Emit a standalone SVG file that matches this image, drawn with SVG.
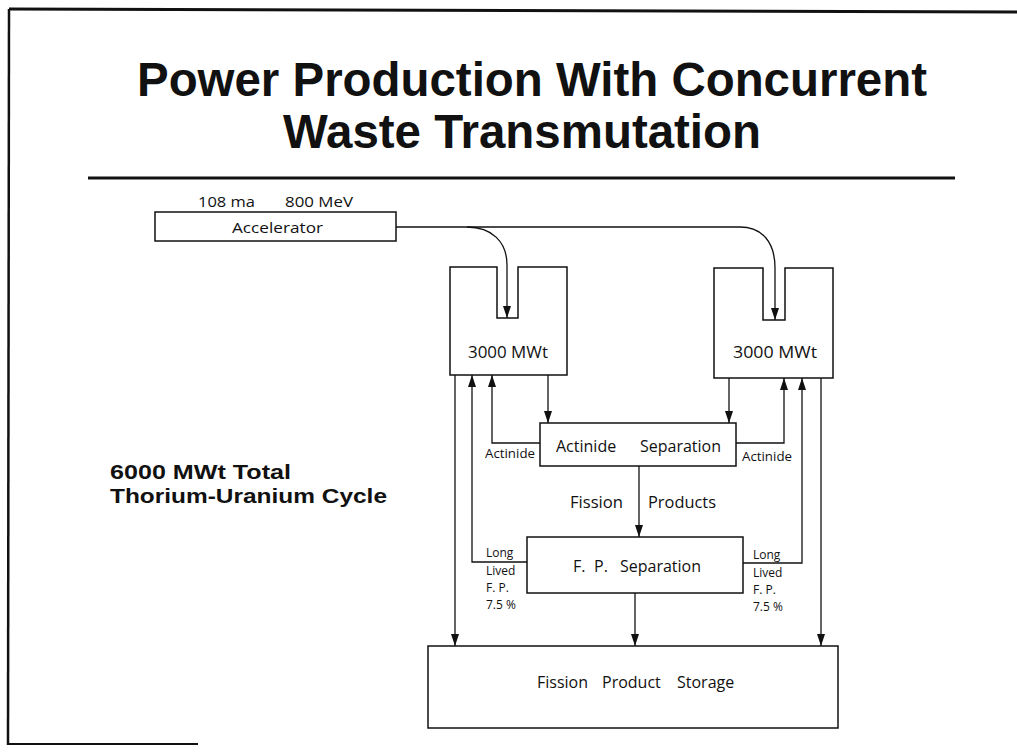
<svg xmlns="http://www.w3.org/2000/svg" width="1017" height="752" viewBox="0 0 1017 752">
<style>
.box{fill:#fff;stroke:#111;stroke-width:1.5}
.conn{fill:none;stroke:#111;stroke-width:1.3}
.t{font-family:"Open Sans","Liberation Sans",sans-serif;fill:#111}
.title{font-family:"Liberation Sans",Arial,sans-serif;font-weight:bold;fill:#111}
</style>
<defs>
<marker id="ah" viewBox="0 0 12 8" refX="12" refY="4" markerWidth="12" markerHeight="8" markerUnits="userSpaceOnUse" orient="auto">
<path d="M0,0 L12,4 L0,8 Z" fill="#111"/>
</marker>
</defs>
<rect width="1017" height="752" fill="#fff"/>
<g id="frame" fill="none" stroke="#111">
<path d="M9,9 L1017,12" stroke-width="3"/>
<path d="M9,9 L8,745" stroke-width="2.5"/>
<path d="M7,744 L198,744" stroke-width="2"/>
<path d="M88,178 L955,178" stroke-width="3"/>
</g>
<g id="title">
<text class="title" x="137" y="96" font-size="48" textLength="790" lengthAdjust="spacingAndGlyphs">Power Production With Concurrent</text>
<text class="title" x="283" y="148" font-size="48" textLength="478" lengthAdjust="spacingAndGlyphs">Waste Transmutation</text>
</g>
<g id="summary">
<text class="title" x="110" y="479" font-size="20" textLength="181" lengthAdjust="spacingAndGlyphs">6000 MWt Total</text>
<text class="title" x="110" y="503" font-size="20" textLength="277" lengthAdjust="spacingAndGlyphs">Thorium-Uranium Cycle</text>
</g>
<g id="accelerator">
<text class="t" x="198" y="207" font-size="14" textLength="57" lengthAdjust="spacingAndGlyphs">108 ma</text>
<text class="t" x="285" y="207" font-size="14" textLength="68" lengthAdjust="spacingAndGlyphs">800 MeV</text>
<rect class="box" x="155" y="212" width="241" height="29"/>
<text class="t" x="232" y="233" font-size="15" textLength="91" lengthAdjust="spacingAndGlyphs">Accelerator</text>
</g>
<g id="reactor-left">
<path class="box" d="M450,267 H497 V318 H518 V267 H567 V375 H450 Z"/>
<text class="t" x="468" y="358" font-size="16" textLength="80" lengthAdjust="spacingAndGlyphs">3000 MWt</text>
</g>
<g id="reactor-right">
<path class="box" d="M714,268 H763 V320 H785 V268 H833 V378 H714 Z"/>
<text class="t" x="733" y="358" font-size="16" textLength="84" lengthAdjust="spacingAndGlyphs">3000 MWt</text>
</g>
<g id="actinide-separation">
<rect class="box" x="540" y="423" width="196" height="43"/>
<text class="t" y="452" font-size="16"><tspan x="556">Actinide</tspan> <tspan x="640">Separation</tspan></text>
</g>
<g id="fp-separation">
<rect class="box" x="527" y="537" width="216" height="56"/>
<text class="t" y="572" font-size="16"><tspan x="573">F.</tspan> <tspan x="594">P.</tspan> <tspan x="620">Separation</tspan></text>
</g>
<g id="storage">
<rect class="box" x="428" y="646" width="410" height="82"/>
<text class="t" y="688" font-size="16"><tspan x="537">Fission</tspan> <tspan x="602">Product</tspan> <tspan x="677">Storage</tspan></text>
</g>
<g id="connectors">
<path class="conn" d="M396,227 H467 C492,227 507,242 507,265 V318" marker-end="url(#ah)"/>
<path class="conn" d="M467,227 H740 C762,227 775,242 775,268 V320" marker-end="url(#ah)"/>
<path class="conn" d="M455,375 V646" marker-end="url(#ah)"/>
<path class="conn" d="M527,562 H472 V375" marker-end="url(#ah)"/>
<path class="conn" d="M540,443 H492 V375" marker-end="url(#ah)"/>
<path class="conn" d="M548,375 V423" marker-end="url(#ah)"/>
<path class="conn" d="M729,378 V423" marker-end="url(#ah)"/>
<path class="conn" d="M736,443 H784 V378" marker-end="url(#ah)"/>
<path class="conn" d="M743,563 H802 V378" marker-end="url(#ah)"/>
<path class="conn" d="M821,378 V646" marker-end="url(#ah)"/>
<path class="conn" d="M639,466 V537" marker-end="url(#ah)"/>
<path class="conn" d="M635,593 V646" marker-end="url(#ah)"/>
</g>
<g id="labels">
<text class="t" x="485" y="458" font-size="12" textLength="50" lengthAdjust="spacingAndGlyphs">Actinide</text>
<text class="t" x="742" y="461" font-size="12" textLength="50" lengthAdjust="spacingAndGlyphs">Actinide</text>
<text class="t" x="570" y="508" font-size="16" textLength="53" lengthAdjust="spacingAndGlyphs">Fission</text>
<text class="t" x="648" y="508" font-size="16" textLength="68" lengthAdjust="spacingAndGlyphs">Products</text>
<text class="t" x="486" y="557" font-size="12">Long</text>
<text class="t" x="486" y="575" font-size="12">Lived</text>
<text class="t" x="486" y="592" font-size="12">F. P.</text>
<text class="t" x="486" y="609" font-size="12">7.5 %</text>
<text class="t" x="753" y="559" font-size="12">Long</text>
<text class="t" x="753" y="577" font-size="12">Lived</text>
<text class="t" x="753" y="594" font-size="12">F. P.</text>
<text class="t" x="753" y="611" font-size="12">7.5 %</text>
</g>
</svg>
